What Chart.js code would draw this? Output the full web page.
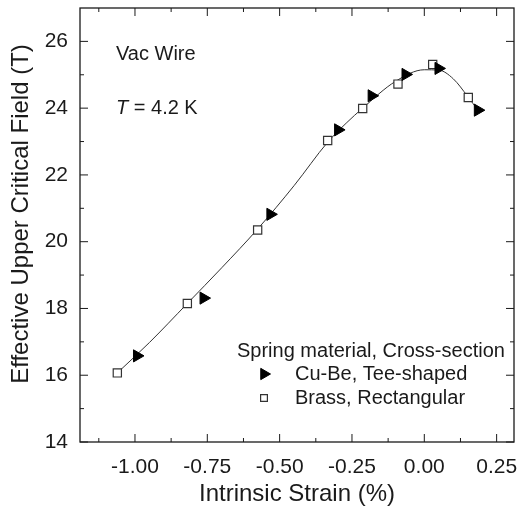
<!DOCTYPE html>
<html>
<head>
<meta charset="utf-8">
<script src="https://cdn.jsdelivr.net/npm/chart.js@4.4.0/dist/chart.umd.min.js"></script>
<style>
html,body{margin:0;padding:0;background:#fff;}
#wrap{width:522px;height:509px;}
</style>
</head>
<body>
<div id="wrap"><canvas id="c" width="522" height="509"></canvas></div>
<script>
// Data
const cuBeStrain = [-0.993, -0.763, -0.532, -0.298, -0.182, -0.065, 0.049, 0.185];
const cuBeField  = [16.58, 18.31, 20.82, 23.35, 24.37, 25.01, 25.19, 23.94];
const brassStrain = [-1.061, -0.819, -0.576, -0.334, -0.213, -0.091, 0.029, 0.152];
const brassField  = [16.07, 18.15, 20.35, 23.03, 23.99, 24.72, 25.31, 24.32];
const fitStrain = [-1.061, -0.95, -0.819, -0.70, -0.576, -0.45, -0.334, -0.27, -0.213, -0.10, 0.00, 0.05, 0.10, 0.15, 0.185];
const fitField  = [16.07, 16.98, 18.15, 19.22, 20.38, 21.68, 22.98, 23.55, 24.00, 24.80, 25.15, 25.14, 24.88, 24.35, 23.94];
const xTicks = [-1.00, -0.75, -0.50, -0.25, 0.00, 0.25];
const yTicks = [14, 16, 18, 20, 22, 24, 26];
const xTitle = 'Intrinsic Strain (%)';
const yTitle = 'Effective Upper Critical Field (T)';
const legendTitle = 'Spring material, Cross-section';
const seriesNames = ['Cu-Be, Tee-shaped', 'Brass, Rectangular'];

const FONT = "'Liberation Sans', Arial, Helvetica, sans-serif";
const INK = '#1a1a1a';

function pts(xs, ys){ return xs.map((x,i)=>({x:x, y:ys[i]})); }

const frame = {
  id:'frame',
  afterDatasetsDraw(chart){
    const {ctx, chartArea:a, scales:{x, y}} = chart;
    ctx.save();
    ctx.strokeStyle = INK;
    ctx.lineWidth = 1.3;
    ctx.strokeRect(a.left, a.top, a.right-a.left, a.bottom-a.top);
    ctx.lineWidth = 1;
    ctx.beginPath();
    const maj = 8, mnr = 4;
    xTicks.forEach((v)=>{
      const px = x.getPixelForValue(v);
      ctx.moveTo(px, a.bottom); ctx.lineTo(px, a.bottom-maj);
      ctx.moveTo(px, a.top); ctx.lineTo(px, a.top+maj);
    });
    const xStep = 0.25;
    for (let v = xTicks[0]-xStep/2; v < x.max; v += xStep){
      if (v < x.min) continue;
      const px = x.getPixelForValue(v);
      ctx.moveTo(px, a.bottom); ctx.lineTo(px, a.bottom-mnr);
      ctx.moveTo(px, a.top); ctx.lineTo(px, a.top+mnr);
    }
    yTicks.forEach(v=>{
      const py = y.getPixelForValue(v);
      ctx.moveTo(a.left, py); ctx.lineTo(a.left+maj, py);
      ctx.moveTo(a.right, py); ctx.lineTo(a.right-maj, py);
    });
    for (let v = yTicks[0]+1; v < y.max; v += 2){
      const py = y.getPixelForValue(v);
      ctx.moveTo(a.left, py); ctx.lineTo(a.left+mnr, py);
      ctx.moveTo(a.right, py); ctx.lineTo(a.right-mnr, py);
    }
    ctx.stroke();

    // y axis title
    ctx.fillStyle = INK;
    ctx.save();
    ctx.translate(21, 214);
    ctx.rotate(-Math.PI/2);
    ctx.textAlign = 'center';
    ctx.textBaseline = 'middle';
    ctx.font = '24px ' + FONT;
    ctx.fillText(yTitle, 0, 0);
    ctx.restore();

    // annotations
    ctx.textBaseline = 'middle';
    ctx.textAlign = 'left';
    ctx.font = '20px ' + FONT;
    ctx.fillText('Vac Wire', 116, 54);
    ctx.font = 'italic 20px ' + FONT;
    ctx.fillText('T', 116, 108);
    const tw = ctx.measureText('T').width;
    ctx.font = '20px ' + FONT;
    ctx.fillText(' = 4.2 K', 116 + tw, 108);

    // legend
    ctx.fillText(legendTitle, 237, 351);
    ctx.fillText(seriesNames[0], 295, 374);
    ctx.fillText(seriesNames[1], 295, 398);

    // legend markers
    ctx.fillStyle = '#000'; ctx.strokeStyle = '#000'; ctx.lineWidth = 1;
    Chart.helpers.drawPoint(ctx, {pointStyle:'triangle', rotation:90, radius:6.5, borderWidth:1}, 264, 374);
    ctx.fillStyle = '#fff'; ctx.strokeStyle = '#333'; ctx.lineWidth = 1.2;
    Chart.helpers.drawPoint(ctx, {pointStyle:'rect', rotation:0, radius:4.8, borderWidth:1.2}, 264, 398);
    ctx.restore();
  }
};

new Chart(document.getElementById('c'), {
  type:'scatter',
  data:{
    datasets:[
      {label:'fit', data:pts(fitStrain, fitField), showLine:true, pointRadius:0,
       borderColor:'#333', borderWidth:1, cubicInterpolationMode:'monotone', order:3},
      {label:seriesNames[1], data:pts(brassStrain, brassField), pointStyle:'rect',
       pointRadius:5.8, pointBackgroundColor:'#fff', pointBorderColor:'#333', pointBorderWidth:1.2, order:2},
      {label:seriesNames[0], data:pts(cuBeStrain, cuBeField), pointStyle:'triangle', pointRotation:90,
       pointRadius:7, pointBackgroundColor:'#000', pointBorderColor:'#000', pointBorderWidth:1, order:1}
    ]
  },
  options:{
    responsive:false, animation:false, devicePixelRatio:1,
    layout:{padding:{left:0, right:3, top:5, bottom:0}},
    plugins:{legend:{display:false}, tooltip:{enabled:false}},
    scales:{
      x:{
        type:'linear', min:-1.19, max:0.31,
        afterBuildTicks(s){ s.ticks = xTicks.map(v=>({value:v})); },
        afterFit(s){ s.height = 67; s.paddingLeft = 0; s.paddingRight = 0; },
        grid:{display:false, drawTicks:false},
        border:{display:false},
        ticks:{padding:13, color:INK, font:{family:FONT, size:21},
               callback:(v)=>Number(v).toFixed(2), maxRotation:0, autoSkip:false},
        title:{display:true, text:xTitle, color:INK,
               font:{family:FONT, size:24}, padding:{top:0,bottom:0}}
      },
      y:{
        type:'linear', min:14, max:27,
        afterBuildTicks(s){ s.ticks = yTicks.map(v=>({value:v})); },
        afterFit(s){ s.width = 80; s.paddingTop = 0; s.paddingBottom = 0; },
        grid:{display:false, drawTicks:false},
        border:{display:false},
        ticks:{padding:12, color:INK, font:{family:FONT, size:21}, autoSkip:false,
               callback:(v)=>String(v)},
        title:{display:false}
      }
    }
  }
  ,plugins:[frame]
});
</script>
</body>
</html>
